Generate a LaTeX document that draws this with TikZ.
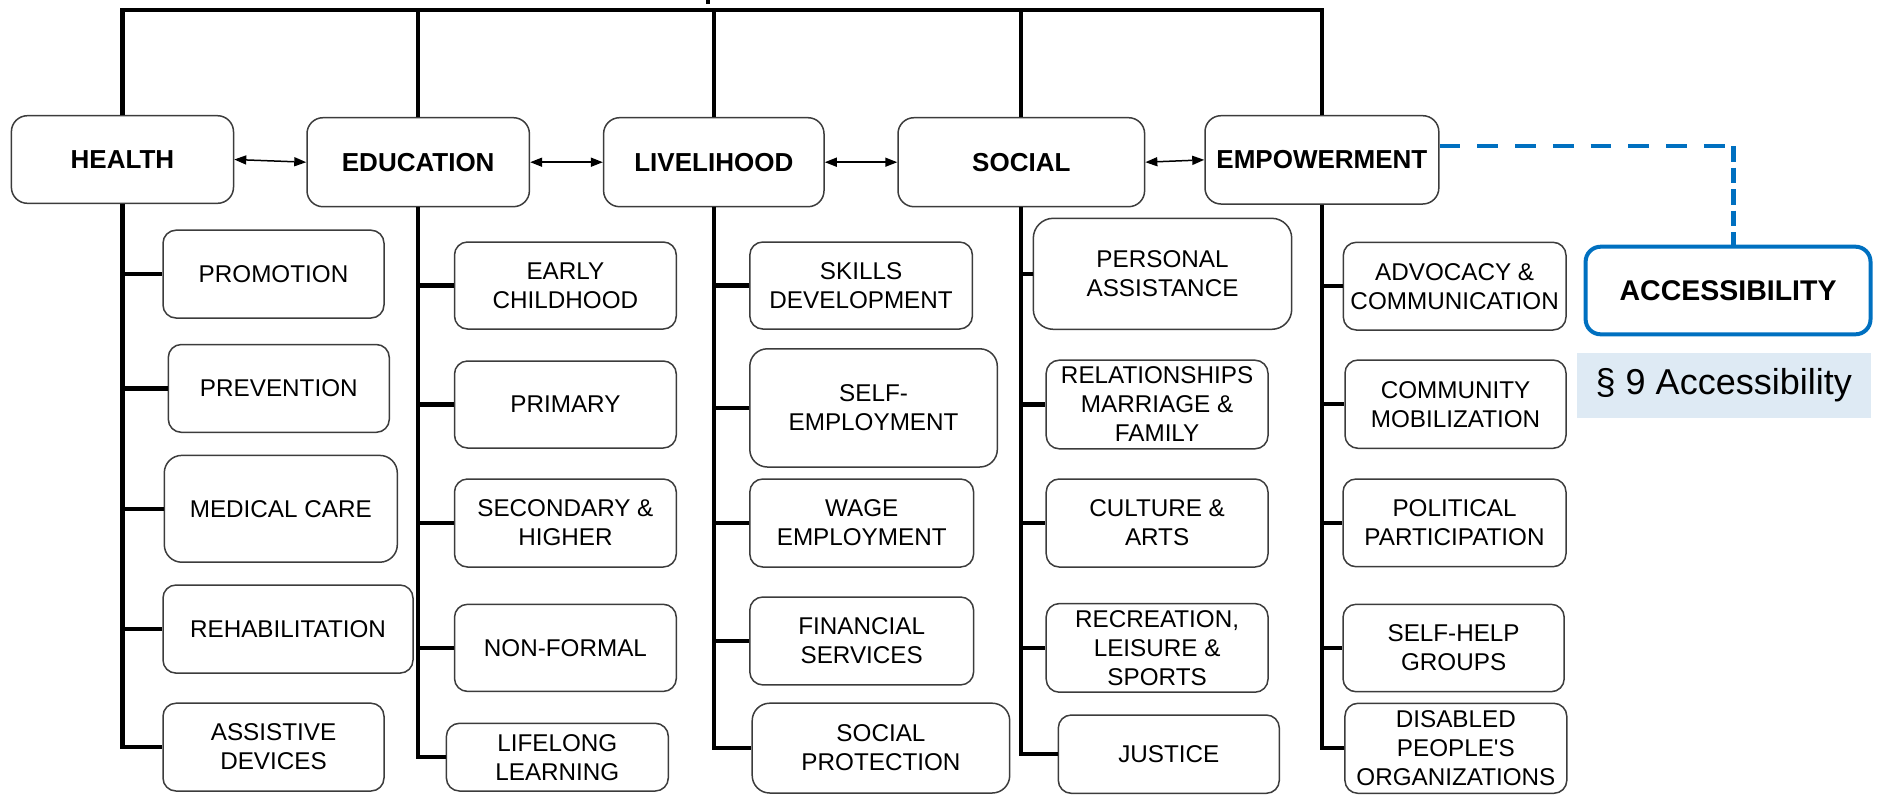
\documentclass[tikz,border=0pt]{standalone}
\usepackage{fontspec}
\setmainfont{Liberation Sans}[Ligatures=TeXOff]
\usetikzlibrary{arrows.meta}
\definecolor{boxline}{RGB}{60,60,60}
\definecolor{accblue}{RGB}{0,112,192}
\definecolor{lightfill}{RGB}{222,234,244}
\newcommand\bx[7][]{\node[subbox, minimum width={(#5-#3)*0.4pt}, minimum height={(#6-#4)*0.4pt}, #1] (#2) at ({(#3+#5)/2},{(#4+#6)/2}) {#7};}
\begin{document}
\begin{tikzpicture}[x=0.4pt,y=-0.4pt,
  subbox/.style={draw=boxline, line width=0.6pt, rounded corners=5.2pt, align=center, inner sep=0pt, font=\fontsize{9.7}{11.6}\selectfont},
  headbox/.style={rounded corners=6.4pt, font=\fontsize{10.4}{12}\selectfont\bfseries},
  trunk/.style={line width=1.7pt, black},
  link/.style={line width=0.6pt, {Triangle[length=4.8pt,width=3.6pt]}-{Triangle[length=4.8pt,width=3.6pt]}},
  dashh/.style={accblue, line width=1.8pt, dash pattern=on 8.3pt off 6.8pt},
  dashv/.style={accblue, line width=1.8pt, dash pattern=on 6.2pt off 2.4pt},
]
\useasboundingbox (0,0) rectangle (1877,794);

% headers
\bx[headbox]{health}{11.4}{115.7}{233.5}{203.3}{HEALTH}
\bx[headbox]{education}{307}{117.7}{529.4}{206.7}{EDUCATION}
\bx[headbox]{livelihood}{603.6}{117.7}{824}{206.7}{LIVELIHOOD}
\bx[headbox]{social}{898}{117.7}{1144.6}{206.7}{SOCIAL}
\bx[headbox]{empowerment}{1205}{115.7}{1438.8}{204}{EMPOWERMENT}

% health
\bx{promotion}{163}{230.2}{384}{318}{PROMOTION}
\bx{prevention}{168.3}{344.5}{389.3}{432.3}{PREVENTION}
\bx[rounded corners=7pt]{medical}{164.3}{455.4}{397.3}{562.2}{MEDICAL CARE}
\bx{rehab}{163}{585}{413}{673.1}{REHABILITATION}
\bx{assistive}{163}{703.2}{384}{791}{ASSISTIVE\\DEVICES}

% education
\bx{early}{454.5}{242}{676.3}{329}{EARLY\\CHILDHOOD}
\bx{primary}{454.5}{361}{676.3}{448}{PRIMARY}
\bx{secondary}{454.5}{479}{676.3}{567}{SECONDARY \&\\HIGHER}
\bx{nonformal}{454.5}{604.3}{676.3}{691.4}{NON-FORMAL}
\bx{lifelong}{446.4}{723.3}{668.3}{791}{LIFELONG\\LEARNING}

% livelihood
\bx{skills}{749.8}{242}{972.4}{329}{SKILLS\\DEVELOPMENT}
\bx[rounded corners=7pt]{selfemp}{749.8}{348.8}{997.3}{467}{SELF-\\EMPLOYMENT}
\bx{wage}{749.8}{479}{973.6}{567}{WAGE\\EMPLOYMENT}
\bx{financial}{749.8}{597}{973.6}{684.9}{FINANCIAL\\SERVICES}
\bx[rounded corners=7pt]{socprot}{752.2}{703.2}{1009.7}{793}{SOCIAL\\PROTECTION}

% social
\bx[rounded corners=8pt]{personal}{1033.3}{218.3}{1291.7}{329.3}{PERSONAL\\ASSISTANCE}
\bx{relationships}{1046.2}{360.2}{1268}{448.8}{RELATIONSHIPS\\MARRIAGE \&\\FAMILY}
\bx{culture}{1046.2}{479}{1268}{567}{CULTURE \&\\ARTS}
\bx{recreation}{1046.2}{603.6}{1268}{692.2}{RECREATION,\\LEISURE \&\\SPORTS}
\bx{justice}{1058.3}{715}{1279.3}{793.3}{JUSTICE}

% empowerment
\bx{advocacy}{1343.3}{242.3}{1566}{330}{ADVOCACY \&\\COMMUNICATION}
\bx{community}{1345}{360}{1566}{448.3}{COMMUNITY\\MOBILIZATION}
\bx{political}{1343}{479}{1566}{566.7}{POLITICAL\\PARTICIPATION}
\bx{selfhelp}{1343}{604.3}{1564.2}{691.7}{SELF-HELP\\GROUPS}
\bx{dpo}{1344.9}{703.3}{1566.8}{793.3}{DISABLED\\PEOPLE'S\\ORGANIZATIONS}

% accessibility
\bx[draw=accblue, line width=1.6pt, rounded corners=6pt, font=\fontsize{11.4}{13}\selectfont\bfseries]{access}{1585.6}{246.7}{1870.5}{334.3}{ACCESSIBILITY}
\bx[draw=none, fill=lightfill, rounded corners=0pt, font=\fontsize{14.4}{16}\selectfont]{sec}{1577}{353.3}{1870.5}{417.7}{§ 9 Accessibility}

% top bar and trunks
\coordinate (topbar) at (0,10);
\draw[trunk] (health.north) |- (empowerment.north |- topbar) -- (empowerment.north);
\draw[trunk] (education.north) -- (education.north |- topbar);
\draw[trunk] (livelihood.north) -- (livelihood.north |- topbar);
\draw[trunk] (social.north) -- (social.north |- topbar);
\coordinate (roottop) at (708,0);
\draw[trunk] (roottop) -- ++(0,4);

\foreach \c in {promotion,prevention,medical,rehab,assistive}
  \draw[trunk] (health.south) |- (\c.west);
\foreach \c in {early,primary,secondary,nonformal,lifelong}
  \draw[trunk] (education.south) |- (\c.west);
\foreach \c in {skills,selfemp,wage,financial,socprot}
  \draw[trunk] (livelihood.south) |- (\c.west);
\foreach \c in {personal,relationships,culture,recreation,justice}
  \draw[trunk] (social.south) |- (\c.west);
\foreach \c in {advocacy,community,political,selfhelp,dpo}
  \draw[trunk] (empowerment.south) |- (\c.west);

% links between headers
\draw[link] (health.east) -- (education.west);
\draw[link] (education.east) -- (livelihood.west);
\draw[link] (livelihood.east) -- (social.west);
\draw[link] (social.east) -- (empowerment.west);

% dashed connector
\coordinate (dcorner) at (1733.3,146);
\draw[dashh] (empowerment.east |- dcorner) -- (dcorner);
\draw[dashv] (dcorner) -- (dcorner |- access.north);
\end{tikzpicture}
\end{document}
